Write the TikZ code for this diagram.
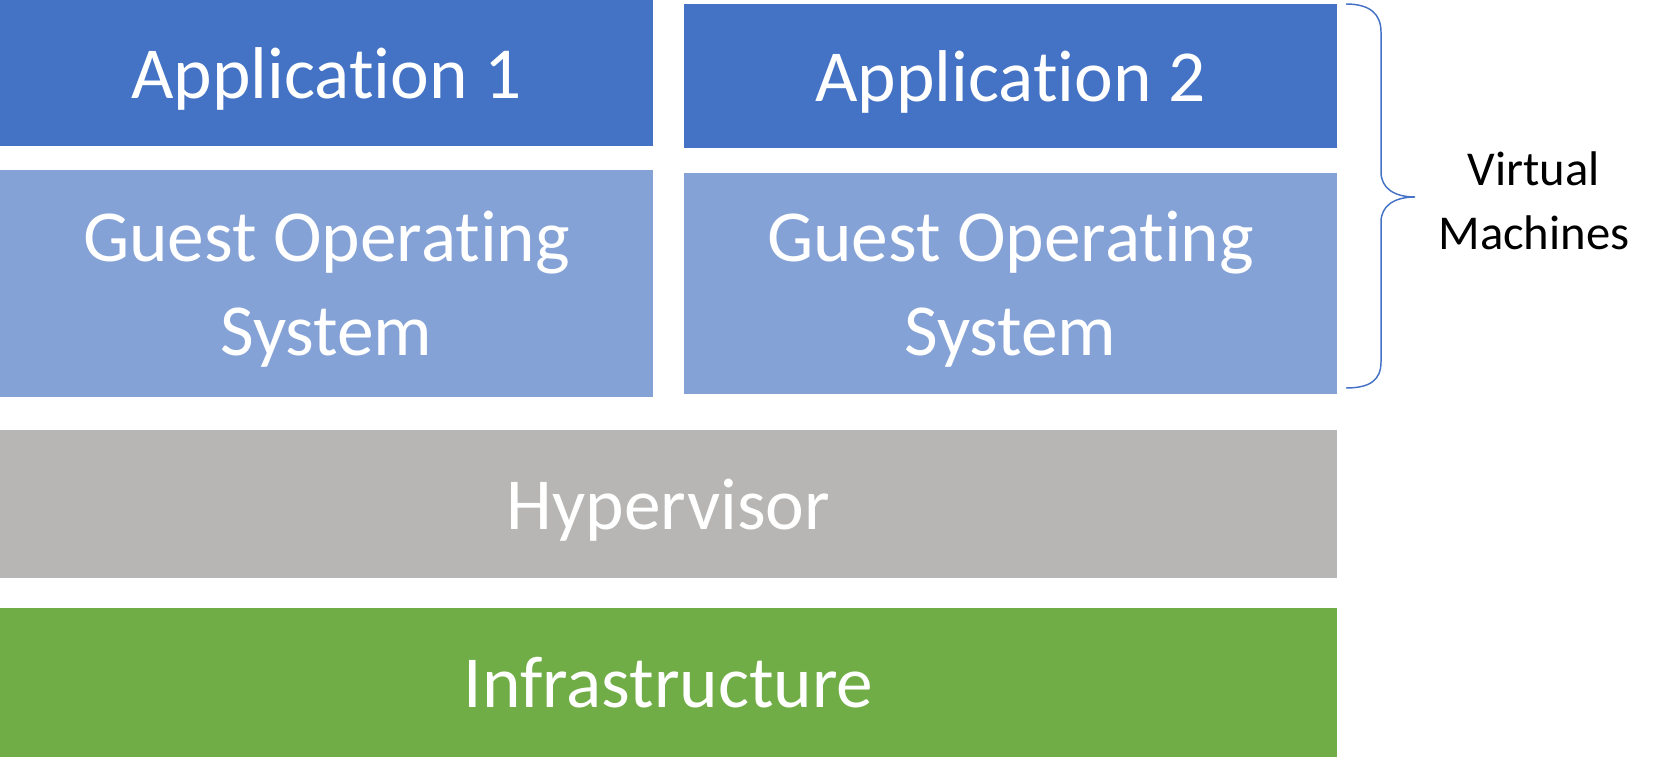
\documentclass[tikz,border=0pt]{standalone}
\usepackage{fontspec}
\setmainfont{Carlito}[Ligatures=NoCommon]
\definecolor{appblue}{RGB}{68,114,196}
\definecolor{osblue}{RGB}{133,162,215}
\definecolor{hvgray}{RGB}{183,182,180}
\definecolor{infragreen}{RGB}{112,173,71}
\tikzset{
  layer/.style={anchor=north west, inner sep=0pt, outer sep=0pt, text=white,
    align=center, text depth=0pt, font=\fontsize{55}{70.5}\selectfont},
}
\begin{document}
\begin{tikzpicture}[x=0.75pt,y=0.75pt,yscale=-1,xscale=1]
                \useasboundingbox (0,0) rectangle (1674,770);
                \node (app1) [layer, fill=appblue, minimum width=489.75pt, minimum height=109.5pt] at (0,0) {Application 1};
                \node (gos1) [layer, fill=osblue, minimum width=489.75pt, minimum height=170.25pt] at (0,170) {Guest Operating\\System};
                \node (app2) [layer, fill=appblue, minimum width=489.75pt, minimum height=108pt] at (684,4) {Application 2};
                \node (gos2) [layer, fill=osblue, minimum width=489.75pt, minimum height=165.4pt] at (684,173) {Guest Operating\\System};
                \node (hyper) [layer, fill=hvgray, minimum width=1002.75pt, minimum height=111pt] at (0,430) {Hypervisor};
                \node (infra) [layer, fill=infragreen, minimum width=1002.75pt, minimum height=111.75pt] at (0,608) {Infrastructure};
                \draw [color=appblue, line width=1.1pt] (1346,4) .. controls (1370,4) and (1381,14) .. (1381,32) -- (1381,172) .. controls (1381,188) and (1394,197) .. (1415,197) .. controls (1394,197) and (1381,206) .. (1381,222) -- (1381,362) .. controls (1381,380) and (1370,388) .. (1346,388);
                \node (vm) [inner sep=0pt, align=center, font=\fontsize{36.5}{48.4}\selectfont] at (1534,201) {Virtual\\Machines};
            \end{tikzpicture}
\end{document}
